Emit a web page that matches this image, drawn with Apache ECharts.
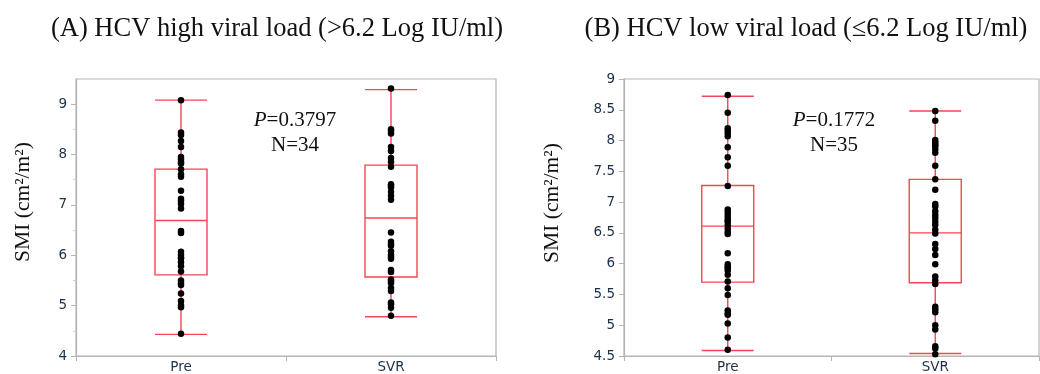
<!DOCTYPE html>
<html>
<head>
<meta charset="utf-8">
<script src="https://cdn.jsdelivr.net/npm/echarts@6/dist/echarts.min.js"></script>
<style>
  html, body { margin: 0; padding: 0; background: #fff; }
  #chart { width: 1040px; height: 374px; }
</style>
</head>
<body>
<div id="chart"></div>
<script>
// categories
const groups = ['Pre', 'SVR']

// panel A: high viral load, individual SMI values
const preA = [9.08, 8.44, 8.39, 8.27, 8.15, 7.95, 7.90, 7.85, 7.82, 7.71, 7.61, 7.56, 7.28, 7.12, 7.08, 7.02, 6.93,
  6.48, 6.44, 6.07, 6.01, 5.96, 5.93, 5.86, 5.78, 5.68, 5.50, 5.45, 5.41, 5.24, 5.09, 5.01, 4.97, 4.44]
const svrA = [9.31, 8.50, 8.47, 8.42, 8.15, 8.07, 7.93, 7.85, 7.76, 7.41, 7.38, 7.35, 7.26, 7.18, 7.10, 6.45, 6.27,
  6.22, 6.19, 6.08, 6.01, 5.97, 5.93, 5.71, 5.67, 5.52, 5.49, 5.45, 5.35, 5.29, 5.06, 5.03, 4.96, 4.80]
// [min, Q1, median, Q3, max]
const boxA = [
  [4.43, 5.61, 6.69, 7.71, 9.08],
  [4.78, 5.57, 6.74, 7.79, 9.29],
]

// panel B: low viral load
const preB = [8.74, 8.45, 8.20, 8.16, 8.12, 8.07, 7.89, 7.73, 7.59, 7.26, 6.88, 6.84, 6.79, 6.74, 6.70, 6.68, 6.63,
  6.57, 6.52, 6.48, 6.17, 5.99, 5.95, 5.93, 5.89, 5.82, 5.71, 5.60, 5.49, 5.24, 5.19, 5.17, 5.03, 4.80, 4.60]
const svrB = [8.48, 8.32, 8.01, 7.97, 7.93, 7.91, 7.86, 7.80, 7.59, 7.37, 7.20, 6.97, 6.93, 6.85, 6.79, 6.74, 6.68,
  6.63, 6.55, 6.49, 6.32, 6.24, 6.14, 5.99, 5.79, 5.73, 5.67, 5.30, 5.26, 5.21, 5.00, 4.93, 4.66, 4.62, 4.53]
const boxB = [
  [4.59, 5.70, 6.61, 7.27, 8.72],
  [4.54, 5.69, 6.50, 7.37, 8.48],
]

// axis ticks
const ticksA = [4, 5, 6, 7, 8, 9]
const ticksB = [4.5, 5, 5.5, 6, 6.5, 7, 7.5, 8, 8.5, 9]

const titles = ['(A) HCV high viral load (>6.2 Log IU/ml)', '(B) HCV low viral load (\u22646.2 Log IU/ml)']
const stats = [['0.3797', 'N=34'], ['0.1772', 'N=35']]
const yName = 'SMI (cm\u00b2/m\u00b2)'

const RED = '#f64655'
const FRAME = '#b5b5b5'
const LABEL = '#1b2f46'
const SERIF = '"Liberation Serif", "Times New Roman", serif'
const SANS = '"DejaVu Sans", Verdana, sans-serif'

function toPoints(pre, svr) {
  return pre.map((v) => [0, v]).concat(svr.map((v) => [1, v]))
}

function xAxisFor(gridIndex) {
  return {
    type: 'category',
    gridIndex,
    data: groups,
    axisLine: { lineStyle: { color: FRAME, width: 1.2 } },
    axisTick: { show: true, length: 5, lineStyle: { color: FRAME } },
    axisLabel: { fontFamily: SANS, fontSize: 13.5, color: LABEL, margin: 4 },
    splitLine: { show: false },
  }
}

function yAxisFor(gridIndex, min, max, interval, ticks, minor) {
  return {
    type: 'value',
    gridIndex,
    min,
    max,
    interval,
    axisLine: { show: true, lineStyle: { color: FRAME, width: 1.2 } },
    axisTick: { show: true, length: 5, customValues: ticks, lineStyle: { color: FRAME } },
    minorTick: { show: minor, splitNumber: 2, length: 3, lineStyle: { color: '#cfcfcf' } },
    axisLabel: {
      fontFamily: SANS, fontSize: 13.5, color: LABEL, margin: 9,
      customValues: ticks,
    },
    splitLine: { show: false },
  }
}

function boxSeries(idx, data) {
  return {
    type: 'boxplot',
    xAxisIndex: idx,
    yAxisIndex: idx,
    boxWidth: [52, 52],
    itemStyle: { color: 'rgba(0,0,0,0)', borderColor: RED, borderWidth: 1.4 },
    emphasis: { disabled: true },
    data,
    z: 2,
  }
}

function dotSeries(idx, data) {
  return {
    type: 'scatter',
    xAxisIndex: idx,
    yAxisIndex: idx,
    symbolSize: 6.5,
    itemStyle: { color: '#000', opacity: 1 },
    data,
    z: 3,
  }
}

function statText(x, y, p, n) {
  return {
    type: 'text',
    x,
    y,
    style: {
      text: '{i|P}=' + p + '\n' + n,
      align: 'center',
      verticalAlign: 'middle',
      font: '21px ' + SERIF,
      fill: '#111',
      lineHeight: 25,
      rich: { i: { fontStyle: 'italic', fontFamily: SERIF, fontSize: 21, fill: '#111' } },
    },
  }
}

const chart = echarts.init(document.getElementById('chart'))
chart.setOption({
  animation: false,
  grid: [
    { left: 76, top: 79, width: 420, height: 280, show: true, borderColor: FRAME, borderWidth: 1.2, backgroundColor: '#fff' },
    { left: 624, top: 79, width: 415, height: 277, show: true, borderColor: FRAME, borderWidth: 1.2, backgroundColor: '#fff' },
  ],
  xAxis: [xAxisFor(0), xAxisFor(1)],
  yAxis: [
    yAxisFor(0, 4, 9.5, 1, ticksA, true),
    yAxisFor(1, 4.5, 9, 0.5, ticksB, false),
  ],
  series: [
    boxSeries(0, boxA),
    dotSeries(0, toPoints(preA, svrA)),
    boxSeries(1, boxB),
    dotSeries(1, toPoints(preB, svrB)),
  ],
  graphic: [
    { type: 'text', x: 277, y: 29, style: { text: titles[0], align: 'center', verticalAlign: 'middle', font: '26.5px ' + SERIF, fill: '#111' } },
    { type: 'text', x: 806, y: 29, style: { text: titles[1], align: 'center', verticalAlign: 'middle', font: '26.5px ' + SERIF, fill: '#111' } },
    { type: 'text', x: 23, y: 202, rotation: Math.PI / 2, style: { text: yName, align: 'center', verticalAlign: 'middle', font: '21.5px ' + SERIF, fill: '#111' } },
    { type: 'text', x: 552, y: 203, rotation: Math.PI / 2, style: { text: yName, align: 'center', verticalAlign: 'middle', font: '21.5px ' + SERIF, fill: '#111' } },
    statText(295, 133, stats[0][0], stats[0][1]),
    statText(834, 133, stats[1][0], stats[1][1]),
  ],
})
</script>
</body>
</html>
